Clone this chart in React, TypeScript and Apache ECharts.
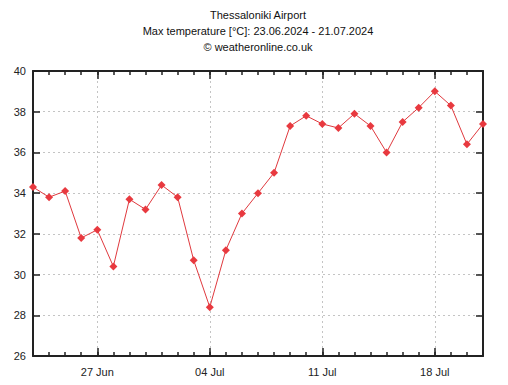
import React, { useEffect, useRef } from "react";
import * as echarts from "echarts";

const days = [
  "23.06", "24.06", "25.06", "26.06", "27.06", "28.06", "29.06", "30.06",
  "01.07", "02.07", "03.07", "04.07", "05.07", "06.07", "07.07", "08.07",
  "09.07", "10.07", "11.07", "12.07", "13.07", "14.07", "15.07", "16.07",
  "17.07", "18.07", "19.07", "20.07", "21.07",
];
const maxTemp = [
  34.3, 33.8, 34.1, 31.8, 32.2, 30.4, 33.7, 33.2, 34.4, 33.8, 30.7, 28.4,
  31.2, 33.0, 34.0, 35.0, 37.3, 37.8, 37.4, 37.2, 37.9, 37.3, 36.0, 37.5,
  38.2, 39.0, 38.3, 36.4, 37.4,
];
const tickLabels: Record<string, string> = {
  "27.06": "27 Jun",
  "04.07": "04 Jul",
  "11.07": "11 Jul",
  "18.07": "18 Jul",
};
const titleLines = [
  "Thessaloniki Airport",
  "Max temperature [°C]: 23.06.2024 - 21.07.2024",
  "© weatheronline.co.uk",
];

const isMajor = (_i: number, v: string) => v in tickLabels;

export default function App() {
  const ref = useRef<HTMLDivElement>(null);
  useEffect(() => {
    if (!ref.current) return;
    const chart = echarts.init(ref.current, undefined, { renderer: "svg" });
    const font = "Arial, 'Liberation Sans', sans-serif";
    const axisLine = { show: true, lineStyle: { color: "#222", width: 2 } };
    const dotted = { show: true, lineStyle: { color: "#c4c4c4", type: [2, 3], width: 1 } };
    const hiddenX = (pos: string, len: number, interval: any) => ({
      type: "category",
      data: days,
      position: pos,
      boundaryGap: false,
      axisLine: { show: false },
      axisLabel: { show: false },
      splitLine: { show: false },
      axisTick: { show: true, inside: true, length: len, interval, alignWithLabel: true, lineStyle: { color: "#222", width: 1.5 } },
    });
    const titleY = [14.5, 31, 46.5];
    chart.setOption({
      animation: false,
      backgroundColor: "#fff",
      graphic: titleLines.map((t, i) => ({
        type: "text",
        x: 258,
        y: titleY[i],
        style: {
          text: t,
          fontFamily: font,
          fontSize: 11,
          fill: "#111",
          textAlign: "center",
          textVerticalAlign: "middle",
        },
      })),
      grid: { left: 33, right: 25, top: 71, bottom: 29, containLabel: false },
      xAxis: [
        {
          type: "category",
          data: days,
          position: "bottom",
          boundaryGap: false,
          axisLine,
          axisTick: { show: true, inside: true, length: 4, interval: 0, lineStyle: { color: "#222", width: 1.5 } },
          axisLabel: {
            interval: 0,
            formatter: (v: string) => tickLabels[v] || "",
            margin: 10,
            fontFamily: font,
            fontSize: 11,
            color: "#222",
          },
          splitLine: { ...dotted, interval: isMajor },
        },
        hiddenX("bottom", 8, isMajor),
        { ...hiddenX("top", 4, 0), axisLine },
        hiddenX("top", 8, isMajor),
      ],
      yAxis: [
        {
          type: "value",
          min: 26,
          max: 40,
          interval: 2,
          position: "left",
          axisLine,
          axisTick: { show: true, inside: true, length: 7, lineStyle: { color: "#222", width: 1.5 } },
          axisLabel: { margin: 7, fontFamily: font, fontSize: 11, color: "#222" },
          splitLine: dotted,
        },
        {
          type: "value",
          min: 26,
          max: 40,
          interval: 2,
          position: "right",
          axisLine,
          axisTick: { show: true, inside: true, length: 7, lineStyle: { color: "#222", width: 1.5 } },
          axisLabel: { show: false },
          splitLine: { show: false },
        },
      ],
      series: [
        {
          type: "line",
          data: maxTemp,
          xAxisIndex: 0,
          yAxisIndex: 0,
          symbol: "diamond",
          symbolSize: 8,
          showAllSymbol: true,
          lineStyle: { color: "#e0393e", width: 1 },
          itemStyle: { color: "#e8393f" },
        },
      ],
    });
    return () => chart.dispose();
  }, []);
  return (
    <div
      ref={ref}
      style={{ position: "fixed", left: 0, top: 0, width: 508, height: 385, background: "#fff" }}
    />
  );
}
